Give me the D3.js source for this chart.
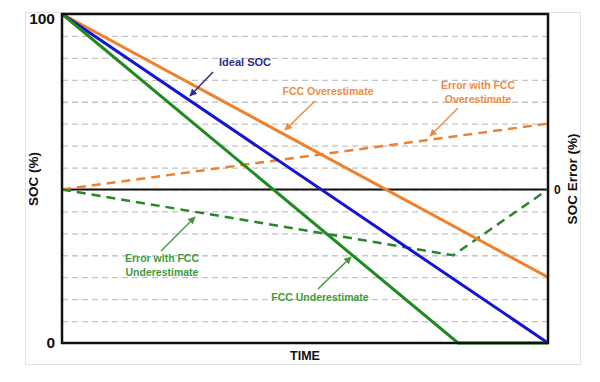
<!DOCTYPE html>
<html>
<head>
<meta charset="utf-8">
<script src="https://cdn.jsdelivr.net/npm/d3@7.9.0/dist/d3.min.js"></script>
<style>
  body { margin: 0; background: #fff; }
  svg { display: block; font-family: Arial, "Liberation Sans", sans-serif; }
</style>
</head>
<body>
<svg id="chart" width="600" height="382"></svg>
<script>
// --- data (time in %, SOC in %, error in % SOC)
const idealSOC = [[0, 100], [100, 0]];
const fccOver = [[0, 100], [100, 20]];
const fccUnder = [[0, 100], [81.5, 0], [100, 0]];
const errOver = [[0, 0], [100, 20]];
const errUnder = [[0, 0], [80.5, -20], [100, 0]];

const socTicks = [0, 100];
const errTicks = [0];
const gridCount = 15;           // dashed grid divisions
const zeroErrAt = 7;            // error 0 sits 7 divisions above bottom

const width = 600, height = 382;
const margin = { top: 14, right: 52, bottom: 39, left: 62 };
const plot = {
  left: margin.left, right: width - margin.right,
  top: margin.top, bottom: height - margin.bottom
};

const svg = d3.select('#chart');

// outer light frame
svg.append('rect')
  .attr('x', 25.5).attr('y', 12.5)
  .attr('width', 555).attr('height', 352)
  .attr('fill', 'none').attr('stroke', '#e2e2e2');

const x = d3.scaleLinear().domain([0, 100]).range([plot.left, plot.right]);
const y = d3.scaleLinear().domain([0, 100]).range([plot.bottom, plot.top]);
const step = 100 / gridCount;
const yErr = d3.scaleLinear()
  .domain([-zeroErrAt * step, (gridCount - zeroErrAt) * step])
  .range([plot.bottom, plot.top]);

// dashed gridlines
const gridVals = d3.range(1, gridCount).map(i => i * step);
svg.append('g')
  .attr('transform', `translate(${plot.left},0)`)
  .call(d3.axisLeft(y).tickValues(gridVals).tickFormat('').tickSize(-(plot.right - plot.left)))
  .call(g => g.select('.domain').remove())
  .call(g => g.selectAll('line')
    .attr('stroke', '#c4c4c4').attr('stroke-width', 1.3).attr('stroke-dasharray', '6,4'));

// zero error line
svg.append('line')
  .attr('x1', plot.left).attr('x2', plot.right)
  .attr('y1', yErr(0)).attr('y2', yErr(0))
  .attr('stroke', '#111').attr('stroke-width', 2);

const line = d3.line().x(d => x(d[0])).y(d => y(d[1]));
const lineErr = d3.line().x(d => x(d[0])).y(d => yErr(d[1]));

const orange = '#f0802a', blue = '#1414d2', green = '#1f8a1f';

// error curves (dashed)
svg.append('path').datum(errOver).attr('d', lineErr)
  .attr('fill', 'none').attr('stroke', orange).attr('stroke-width', 2.5).attr('stroke-dasharray', '9,6');
svg.append('path').datum(errUnder).attr('d', lineErr)
  .attr('fill', 'none').attr('stroke', '#2a852a').attr('stroke-width', 2.5).attr('stroke-dasharray', '9,6');

// SOC lines
[[fccOver, orange], [idealSOC, blue], [fccUnder, green]].forEach(([d, c]) => {
  svg.append('path').datum(d).attr('d', line)
    .attr('fill', 'none').attr('stroke', c).attr('stroke-width', 3);
});

// plot frame
svg.append('rect')
  .attr('x', plot.left).attr('y', plot.top)
  .attr('width', plot.right - plot.left).attr('height', plot.bottom - plot.top)
  .attr('fill', 'none').attr('stroke', '#111').attr('stroke-width', 2.5);

// axes labels (ticks)
svg.append('g')
  .attr('transform', `translate(${plot.left - 7},0)`)
  .call(d3.axisLeft(y).tickValues(socTicks).tickSize(0).tickPadding(0))
  .call(g => g.select('.domain').remove())
  .call(g => g.selectAll('text')
    .attr('font-size', 15.5).attr('font-weight', 'bold').attr('fill', '#111')
    .attr('dy', d => d === 100 ? '0.6em' : '0.32em')
    .attr('font-family', 'Arial, "Liberation Sans", sans-serif'));

svg.append('g')
  .attr('transform', `translate(${plot.right + 6},0)`)
  .call(d3.axisRight(yErr).tickValues(errTicks).tickSize(0).tickPadding(0))
  .call(g => g.select('.domain').remove())
  .call(g => g.selectAll('text')
    .attr('font-size', 12).attr('font-weight', 'bold').attr('fill', '#111')
    .attr('font-family', 'Arial, "Liberation Sans", sans-serif'));

// axis titles
svg.append('text').text('TIME')
  .attr('x', (plot.left + plot.right) / 2).attr('y', 360)
  .attr('text-anchor', 'middle').attr('font-size', 12.5).attr('font-weight', 'bold').attr('fill', '#111');
svg.append('text').text('SOC (%)')
  .attr('transform', 'translate(38,179) rotate(-90)')
  .attr('text-anchor', 'middle').attr('font-size', 13.5).attr('font-weight', 'bold').attr('fill', '#111');
svg.append('text').text('SOC Error (%)')
  .attr('transform', 'translate(577,179) rotate(-90)')
  .attr('text-anchor', 'middle').attr('font-size', 13.5).attr('font-weight', 'bold').attr('fill', '#111');

// annotations
const defs = svg.append('defs');
function marker(id, color) {
  defs.append('marker').attr('id', id)
    .attr('viewBox', '0 0 10 10').attr('refX', 9).attr('refY', 5)
    .attr('markerWidth', 5).attr('markerHeight', 5).attr('orient', 'auto')
    .append('path').attr('d', 'M0,0L10,5L0,10z').attr('fill', color);
}

const notes = [
  { lines: ['Ideal SOC'], color: '#2d2d8c', tx: 245, ty: 66, size: 11, from: [213, 72], to: [190, 96] },
  { lines: ['FCC Overestimate'], color: '#ef8c44', tx: 328, ty: 95, size: 10.5, from: [315, 101], to: [285, 130] },
  { lines: ['Error with FCC', 'Overestimate'], color: '#ef8c44', tx: 478, ty: 89, size: 10.5, from: [458, 108], to: [430, 136] },
  { lines: ['Error with FCC', 'Underestimate'], color: '#3f9a3f', tx: 162, ty: 262, size: 10.5, from: [161, 251], to: [195, 217] },
  { lines: ['FCC Underestimate'], color: '#3f9a3f', tx: 320, ty: 301, size: 10.5, from: [318, 289], to: [351, 257] }
];

notes.forEach((n, i) => {
  marker('arr' + i, n.color);
  svg.append('line')
    .attr('x1', n.from[0]).attr('y1', n.from[1])
    .attr('x2', n.to[0]).attr('y2', n.to[1])
    .attr('stroke', n.color).attr('stroke-width', 1.5)
    .attr('marker-end', `url(#arr${i})`);
  const t = svg.append('text')
    .attr('text-anchor', 'middle').attr('font-size', n.size).attr('font-weight', 'bold').attr('fill', n.color);
  n.lines.forEach((s, j) => {
    t.append('tspan').attr('x', n.tx).attr('y', n.ty + j * 14).text(s);
  });
});
</script>
</body>
</html>
